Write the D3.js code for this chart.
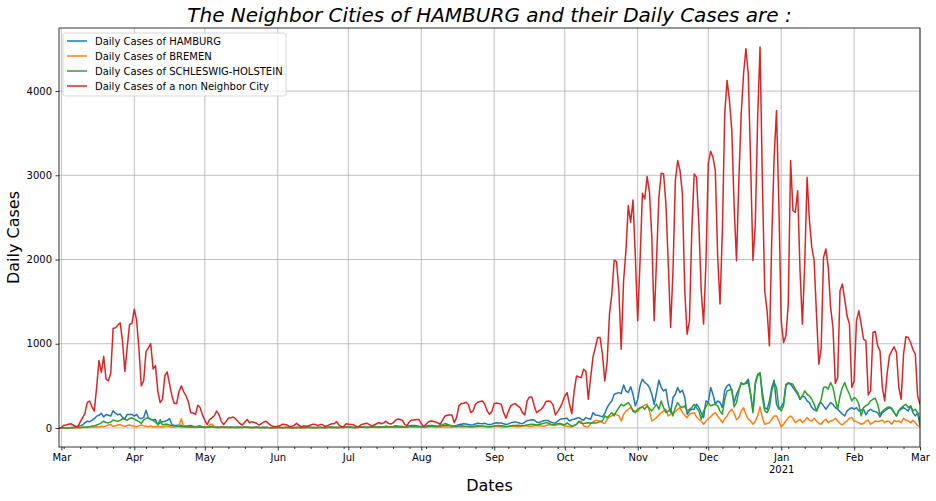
<!DOCTYPE html>
<html>
<head>
<meta charset="utf-8">
<script src="https://cdn.jsdelivr.net/npm/d3@7"></script>
<style>
  body { margin: 0; background: #ffffff; }
  svg { font-family: 'DejaVu Sans', sans-serif; display: block; }
</style>
</head>
<body>
<svg id="canvas"></svg>
<script>
// daily values, first entry = 2020-02-29, last = 2021-03-01
let firstDay = Date.UTC(2020, 1, 29);

let hamburg = [0,
  0,0,2,3,5,8,10,20,25,35,
  60,80,75,90,110,140,150,175,130,160,
  150,140,205,175,155,165,125,110,160,160,
  160,140,160,120,110,125,210,120,105,95,
  100,40,60,75,80,90,110,40,30,30,
  35,30,25,20,25,30,20,15,20,25,
  15,10,10,15,20,12,8,10,12,10,
  8,10,12,8,5,10,8,6,10,12,
  8,5,6,10,8,4,6,8,5,3,
  4,6,8,5,3,5,8,6,4,3,
  5,8,6,4,6,10,8,5,4,6,
  8,5,3,6,10,12,8,5,6,10,
  8,12,15,10,8,6,10,14,12,10,
  8,12,15,18,14,10,12,15,20,16,
  14,18,25,22,20,16,12,18,25,30,
  28,25,20,18,15,20,25,30,28,24,
  20,18,25,30,35,32,25,20,30,40,
  45,50,48,42,35,38,48,55,52,50,
  55,45,40,45,55,62,60,58,50,42,
  48,60,68,72,65,55,50,70,88,92,
  98,95,70,62,75,85,90,88,70,62,
  60,80,103,110,112,115,83,100,103,115,
  123,105,91,123,110,103,182,155,150,143,
  131,170,242,290,321,400,410,420,408,511,
  440,420,490,400,262,341,500,579,539,519,
  480,400,281,420,567,480,440,460,281,182,
  361,400,480,420,448,361,163,202,222,222,
  281,242,180,123,321,301,480,400,281,321,
  300,242,448,500,519,440,301,400,460,527,
  519,539,579,400,202,539,638,650,420,242,
  222,321,480,567,281,222,250,301,519,527,
  519,480,440,400,341,380,369,321,301,242,
  215,202,281,301,262,222,262,301,281,242,
  222,194,163,143,202,225,242,222,242,202,
  210,222,155,202,222,202,194,182,131,182,
  202,222,242,222,182,143,202,225,242,222,
  202,262,182,143,180,30];

let bremen = [0,
  0,0,0,1,1,2,2,3,3,5,
  6,8,10,12,10,15,12,20,15,25,
  35,40,20,25,35,40,25,20,30,35,
  25,20,15,25,35,25,20,15,25,10,
  15,20,15,10,20,25,15,10,12,15,
  30,110,10,8,10,8,5,10,15,12,
  8,5,10,35,45,20,10,5,8,6,
  5,8,6,4,3,6,8,10,7,5,
  4,6,8,5,3,4,6,5,3,2,
  3,5,4,3,6,8,5,3,2,4,
  5,3,2,4,6,5,3,2,4,6,
  5,8,10,6,4,3,5,8,6,4,
  5,7,9,6,4,3,6,8,10,7,
  5,8,12,10,7,6,9,12,15,10,
  8,10,14,12,9,7,10,14,18,12,
  10,12,15,12,8,6,10,14,16,12,
  10,8,12,15,12,10,8,12,16,14,
  12,10,14,18,15,12,10,15,20,16,
  14,12,10,14,18,22,18,15,12,15,
  18,22,20,16,14,18,24,28,22,18,
  20,25,30,26,22,20,28,35,40,30,
  30,40,44,35,24,20,15,12,30,44,
  65,83,24,15,12,52,70,91,85,83,
  60,52,103,130,143,170,155,143,83,163,
  200,222,242,210,202,194,230,250,273,281,
  202,83,100,123,155,180,202,222,143,160,
  182,194,220,242,182,150,123,163,175,182,
  131,103,80,44,83,110,131,163,182,140,
  103,63,110,143,194,222,170,100,123,200,
  240,160,103,83,44,83,143,250,123,44,
  52,63,103,143,143,83,12,44,83,123,
  143,115,63,83,103,63,90,123,91,83,
  115,83,52,44,83,103,63,83,91,115,
  83,52,36,63,83,115,123,83,75,60,
  44,52,83,91,44,63,83,75,83,91,
  63,83,75,44,91,75,83,63,115,91,
  83,63,91,63,30,12];

let schleswig = [0,
  0,0,0,0,2,3,4,5,6,8,
  10,12,15,20,25,35,45,60,80,65,
  60,70,95,85,80,90,110,100,90,115,
  120,105,90,75,55,95,115,120,100,90,
  70,40,100,35,45,45,35,30,25,20,
  18,15,15,15,12,10,12,10,8,10,
  8,6,8,10,12,8,6,5,8,10,
  8,6,5,7,9,6,4,5,7,8,
  6,4,5,7,6,4,5,6,4,3,
  3,5,6,4,3,4,6,5,3,2,
  4,6,5,3,4,6,5,4,3,5,
  6,4,3,5,7,6,5,4,5,7,
  6,8,10,8,6,5,8,10,9,7,
  6,8,10,12,10,8,9,12,14,11,
  10,12,15,14,12,10,8,12,16,18,
  20,18,15,14,12,16,20,22,20,18,
  20,25,40,52,45,30,22,20,18,22,
  25,22,20,18,15,18,22,25,24,22,
  20,18,16,18,22,26,28,25,22,18,
  20,24,28,30,32,28,25,28,35,40,
  44,40,35,40,48,55,63,58,45,40,
  44,50,52,45,36,60,40,20,30,44,
  80,55,52,58,63,60,63,60,63,75,
  83,143,123,150,182,143,200,242,281,262,
  280,301,262,200,182,222,240,250,222,262,
  230,202,242,281,222,321,242,182,200,222,
  143,242,301,260,242,262,202,220,242,281,
  240,202,103,202,250,301,262,275,281,262,
  200,163,341,440,450,460,250,300,440,539,
  519,527,539,400,182,519,618,658,361,202,
  182,242,440,539,480,242,202,262,499,539,
  527,519,460,420,341,380,440,400,380,341,
  280,202,262,341,480,488,460,539,480,341,
  222,380,480,539,460,400,321,361,341,281,
  143,242,265,281,321,341,353,281,163,194,
  222,242,250,234,182,143,210,240,262,281,
  242,262,202,222,182,83];

let otherCity = [0,
  5,30,35,45,50,35,20,15,70,120,
  170,300,320,250,200,480,800,660,850,580,
  560,650,1180,1190,1220,1250,1030,670,960,1230,
  1240,1410,1280,930,500,560,910,950,1000,700,
  740,440,300,340,620,665,520,380,290,290,
  430,500,430,380,310,180,180,160,270,240,
  155,90,40,100,120,145,200,160,75,40,
  75,115,120,130,110,80,50,35,70,100,
  60,75,65,55,35,50,70,80,55,30,
  20,15,20,25,45,40,35,15,20,30,
  55,30,15,25,20,25,35,45,40,30,
  40,40,20,25,40,50,50,75,35,15,
  15,50,45,40,40,25,5,30,45,50,
  55,40,25,35,50,65,50,60,80,55,
  45,60,90,105,100,90,40,30,75,95,
  95,99,99,52,16,44,71,83,79,71,
  60,44,91,139,150,155,155,63,123,262,
  290,293,305,281,182,202,281,305,313,321,
  281,202,162,194,289,297,289,281,182,115,
  194,262,281,289,262,242,182,155,321,369,
  369,262,182,202,222,258,313,321,313,274,
  155,194,242,301,380,420,281,170,440,618,
  606,598,698,670,341,598,844,955,1074,1074,
  876,559,777,1352,1590,1994,1974,1629,935,1748,
  2105,2640,2442,2707,2026,1272,1986,2787,2719,2985,
  2799,2263,1272,1986,2739,3025,3017,2660,1946,1193,
  1867,2937,3175,3056,2779,1629,1114,1272,2343,3017,
  2977,2422,1629,1233,1946,3136,3286,3215,3056,2026,
  1471,2343,3730,4127,3889,3532,2620,1986,2937,3730,
  4206,4503,4206,3136,1986,2422,3690,4523,2937,1629,
  1391,975,2263,3215,3770,2660,1272,1015,1094,1471,
  3175,2581,2561,2818,1867,1233,1946,2977,2462,2145,
  1986,1352,757,955,2026,2125,1907,1431,1193,527,
  599,1629,1708,1530,1332,1233,480,559,1272,1391,
  1233,1054,1035,392,440,1134,1146,975,916,480,
  321,638,856,916,963,896,480,341,876,1082,
  1074,1015,932,876,380,281];

let seriesNames = [
  'Daily Cases of HAMBURG',
  'Daily Cases of BREMEN',
  'Daily Cases of SCHLESWIG-HOLSTEIN',
  'Daily Cases of a non Neighbor City'];
let seriesColors = ['#1f77b4', '#ff7f0e', '#2ca02c', '#d62728'];
let yTicks = [0, 1000, 2000, 3000, 4000];
let monthNames = ['Jan', 'Feb', 'Mar', 'Apr', 'May', 'Jun', 'Jul', 'Aug', 'Sep', 'Oct', 'Nov', 'Dec'];

let width = 936;
let height = 501;
let plotLeft = 59;
let plotRight = 920;
let plotTop = 28;
let plotBottom = 447;

let canvas = d3.select('#canvas');
canvas.attr('width', width);
canvas.attr('height', height);

let toPoints = arr => arr.map((v, i) => ({ date: new Date(firstDay + i * 86400000), value: v }));
let allSeries = [hamburg, bremen, schleswig, otherCity].map(toPoints);

let lastDate = new Date(firstDay + (otherCity.length - 1) * 86400000);
let xScale = d3.scaleUtc().
domain([new Date(firstDay), lastDate]).
range([plotLeft, plotRight]);

let yMax = d3.max(allSeries, s => d3.max(s, d => d.value));
let yMin = d3.min(allSeries, s => d3.min(s, d => d.value));
let yPad = (yMax - yMin) * 0.05;
let yScale = d3.scaleLinear().
domain([yMin - yPad, yMax + yPad]).
range([plotBottom, plotTop]);

let monthTicks = d3.utcMonth.range(xScale.domain()[0], d3.utcDay.offset(lastDate, 1));
let mondayTicks = d3.utcMonday.range(xScale.domain()[0], d3.utcDay.offset(lastDate, 1)).
filter(d => d.getUTCDate() !== 1);

// grid
let grid = canvas.append('g').attr('stroke', '#b0b0b0').attr('stroke-width', 0.8);
grid.selectAll('.vgrid').
data(monthTicks).
enter().
append('line').
attr('x1', d => xScale(d)).
attr('x2', d => xScale(d)).
attr('y1', plotTop).
attr('y2', plotBottom);
grid.selectAll('.hgrid').
data(yTicks).
enter().
append('line').
attr('x1', plotLeft).
attr('x2', plotRight).
attr('y1', d => yScale(d)).
attr('y2', d => yScale(d));

// lines
canvas.append('clipPath').attr('id', 'clip').
append('rect').
attr('x', plotLeft).attr('y', plotTop).
attr('width', plotRight - plotLeft).attr('height', plotBottom - plotTop);

let line = d3.line().
x(d => xScale(d.date)).
y(d => yScale(d.value));

canvas.append('g').
attr('clip-path', 'url(#clip)').
selectAll('path').
data(allSeries).
enter().
append('path').
attr('d', line).
attr('fill', 'none').
attr('stroke', (d, i) => seriesColors[i]).
attr('stroke-width', 1.5).
attr('stroke-linejoin', 'round');

// axes
let xAxis = d3.axisBottom(xScale).
tickValues(monthTicks).
tickSize(3.5).
tickPadding(3.5).
tickFormat(d => monthNames[d.getUTCMonth()]);

let xAxisG = canvas.append('g').
attr('transform', 'translate(0,' + plotBottom + ')').
call(xAxis);
xAxisG.selectAll('text').
filter(d => d.getUTCMonth() === 0).
append('tspan').
attr('x', 0).
attr('dy', '1.2em').
text(d => d.getUTCFullYear());

let xMinor = d3.axisBottom(xScale).
tickValues(mondayTicks).
tickSize(2).
tickFormat('');
canvas.append('g').
attr('transform', 'translate(0,' + plotBottom + ')').
call(xMinor).
call(g => g.select('.domain').remove());

let yAxis = d3.axisLeft(yScale).
tickValues(yTicks).
tickSize(3.5).
tickPadding(3.5).
tickFormat(d3.format('d'));
canvas.append('g').
attr('transform', 'translate(' + plotLeft + ',0)').
call(yAxis);

canvas.selectAll('.tick text').
attr('font-family', "'DejaVu Sans', sans-serif").
attr('font-size', 10).
attr('fill', '#000');
canvas.selectAll('.tick line').attr('stroke', '#000').attr('stroke-width', 0.8);
canvas.selectAll('.domain').remove();

// frame
canvas.append('rect').
attr('x', plotLeft).attr('y', plotTop).
attr('width', plotRight - plotLeft).attr('height', plotBottom - plotTop).
attr('fill', 'none').
attr('stroke', '#000').
attr('stroke-width', 0.8);

// texts
canvas.append('text').
attr('x', (plotLeft + plotRight) / 2).
attr('y', 22).
attr('text-anchor', 'middle').
attr('font-size', 20).
attr('font-style', 'italic').
text('The Neighbor Cities of HAMBURG and their Daily Cases are :');

canvas.append('text').
attr('x', (plotLeft + plotRight) / 2).
attr('y', 491).
attr('text-anchor', 'middle').
attr('font-size', 16).
text('Dates');

canvas.append('text').
attr('transform', 'translate(19,' + (plotTop + plotBottom) / 2 + ') rotate(-90)').
attr('text-anchor', 'middle').
attr('font-size', 16).
text('Daily Cases');

// legend
let legend = canvas.append('g').attr('transform', 'translate(63,33)');
legend.append('rect').
attr('width', 223).
attr('height', 63).
attr('rx', 2.5).
attr('fill', 'rgba(255,255,255,0.8)').
attr('stroke', '#cccccc').
attr('stroke-width', 0.8);
let entries = legend.selectAll('.entry').
data(seriesNames).
enter().
append('g').
attr('transform', (d, i) => 'translate(0,' + (8 + i * 15) + ')');
entries.append('line').
attr('x1', 4).
attr('x2', 24).
attr('stroke', (d, i) => seriesColors[i]).
attr('stroke-width', 1.5);
entries.append('text').
attr('x', 32).
attr('y', 3.6).
attr('font-size', 10).
text(d => d);
</script>
</body>
</html>
